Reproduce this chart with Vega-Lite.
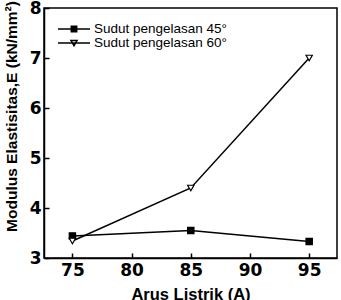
{
  "$schema": "https://vega.github.io/schema/vega-lite/v6.json",
  "width": 293,
  "height": 250,
  "autosize": {"type": "none"},
  "padding": {"left": 44, "top": 8, "right": 4, "bottom": 42},
  "background": "white",
  "config": {
    "view": {"stroke": "black", "strokeWidth": 1.5},
    "axis": {"grid": false, "domainColor": "black", "tickColor": "black", "labelColor": "black", "titleColor": "black", "labelFont": "DejaVu Sans", "labelFontWeight": "bold", "labelFontSize": 17}
  },
  "data": {
    "values": [
      {"arus": 75, "E": 3.44, "series": "Sudut pengelasan 45°"},
      {"arus": 85, "E": 3.55, "series": "Sudut pengelasan 45°"},
      {"arus": 95, "E": 3.33, "series": "Sudut pengelasan 45°"},
      {"arus": 75, "E": 3.34, "series": "Sudut pengelasan 60°"},
      {"arus": 85, "E": 4.4, "series": "Sudut pengelasan 60°"},
      {"arus": 95, "E": 7.0, "series": "Sudut pengelasan 60°"}
    ]
  },
  "encoding": {
    "x": {
      "field": "arus", "type": "quantitative",
      "scale": {"domain": [72.6, 97.35], "nice": false, "zero": false},
      "axis": {"values": [75, 80, 85, 90, 95], "tickSize": -5, "tickWidth": 1.5, "domainWidth": 1.5, "labelFont": "DejaVu Sans", "labelFontSize": 17, "labelFontWeight": "bold", "labelPadding": 9, "title": "Arus Listrik (A)", "titleFont": "Liberation Sans", "titleFontSize": 16.5, "titleFontWeight": "bold", "titlePadding": 8}
    },
    "y": {
      "field": "E", "type": "quantitative",
      "scale": {"domain": [3, 8], "nice": false, "zero": false},
      "axis": {"values": [3, 4, 5, 6, 7, 8], "tickSize": -5, "tickWidth": 1.5, "domainWidth": 1.5, "labelFont": "DejaVu Sans", "labelFontSize": 17, "labelFontWeight": "bold", "labelPadding": 8, "title": "Modulus Elastisitas,E (kN/mm²)", "titleFont": "Liberation Sans", "titleFontSize": 15.5, "titleFontWeight": "bold", "titlePadding": 10, "titleY": 108}
    }
  },
  "layer": [
    {
      "mark": {"type": "line", "color": "black", "strokeWidth": 1.5},
      "encoding": {
        "detail": {"field": "series"}
      }
    },
    {
      "mark": {"type": "point", "filled": false, "stroke": "black", "strokeWidth": 1.2, "size": 40, "opacity": 1},
      "encoding": {
        "shape": {"field": "series", "type": "nominal", "scale": {"range": ["square", "triangle-down"]}, "legend": null},
        "fill": {"field": "series", "type": "nominal", "scale": {"range": ["black", "white"]}, "legend": null}
      }
    },
    {
      "mark": {"type": "point", "filled": true, "stroke": "black", "strokeWidth": 1.5, "size": 0, "opacity": 1},
      "encoding": {
        "shape": {"field": "series", "type": "nominal", "scale": {"range": ["M-2.67,0H2.67M-0.45,-0.45H0.45V0.45H-0.45Z", "M-2.67,0H2.67M-0.5,-0.4L0.5,-0.4L0,0.45Z"]}},
        "fill": {"field": "series", "type": "nominal", "scale": {"range": ["black", "white"]},
          "legend": {"title": null, "orient": "none", "legendX": 23, "legendY": 14, "padding": 0, "symbolOpacity": 1, "symbolStrokeColor": "black", "symbolStrokeWidth": 1.5, "symbolSize": 144, "labelOffset": 13, "labelFontSize": 13.5, "labelColor": "black", "labelFont": "Liberation Sans", "rowPadding": 0}
        }
      }
    }
  ],
  "resolve": {"scale": {"shape": "independent", "fill": "independent"}}
}
